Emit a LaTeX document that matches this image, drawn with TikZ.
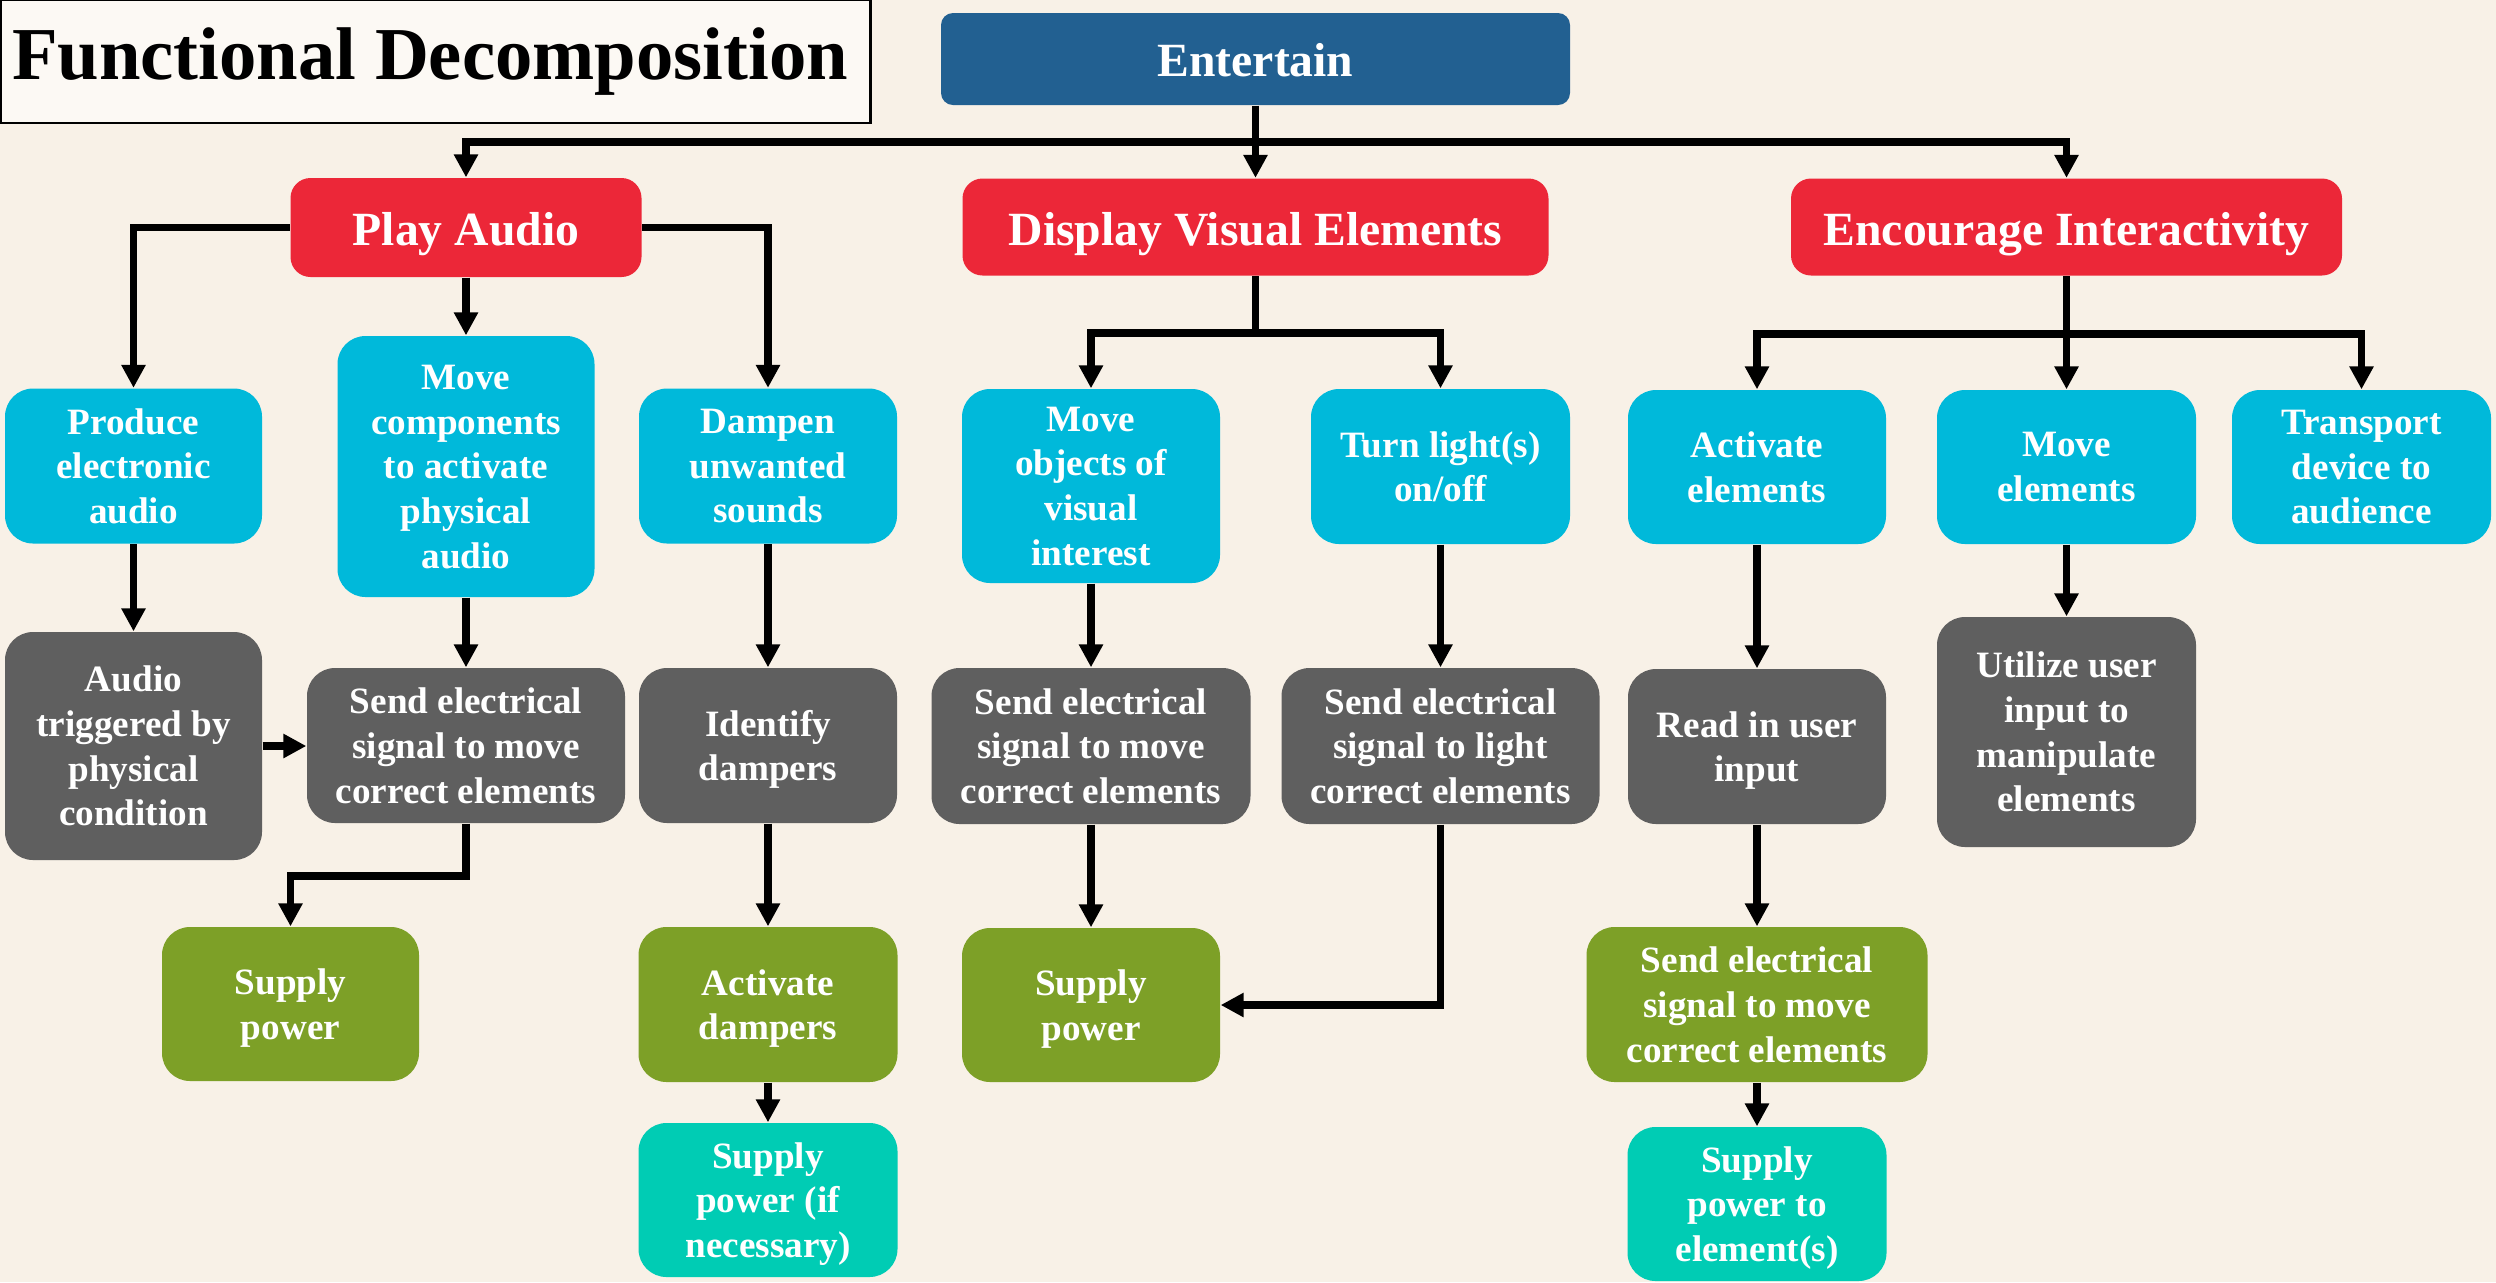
\documentclass[tikz,border=0pt]{standalone}
\usepackage{fontspec}
\setmainfont{Liberation Serif}
\usetikzlibrary{arrows.meta}
\definecolor{bgc}{RGB}{248,241,231}
\definecolor{titlebg}{RGB}{252,249,244}
\definecolor{entc}{RGB}{34,96,145}
\definecolor{redc}{RGB}{236,39,56}
\definecolor{cyanc}{RGB}{0,185,218}
\definecolor{grayc}{RGB}{95,95,95}
\definecolor{greenc}{RGB}{125,160,39}
\definecolor{tealc}{RGB}{0,204,180}
\tikzset{
  x=0.3pt, y=-0.3pt,
  box/.style={rounded corners=8.4pt, inner sep=0pt, align=center, text=white, text depth=0pt,
    font=\bfseries\fontsize{11.15pt}{13.4pt}\selectfont},
  cbox/.style={box, fill=cyanc},
  gbox/.style={box, fill=grayc},
  grbox/.style={box, fill=greenc},
  tbox/.style={box, fill=tealc},
  rbox/.style={box, fill=redc, rounded corners=6pt, text height=10.8pt, text depth=0pt,
    font=\bfseries\fontsize{14.3pt}{17pt}\selectfont},
  ebox/.style={box, fill=entc, rounded corners=3.6pt, text height=10.4pt, text depth=0pt,
    font=\bfseries\fontsize{14.3pt}{17pt}\selectfont},
  wh/.style 2 args={minimum width=#1*0.3pt, minimum height=#2*0.3pt},
  ln/.style={line width=2.3pt, draw=black},
  arr/.style={ln, -{Triangle[width=6.9pt,length=6.9pt]}},
}
\begin{document}
\begin{tikzpicture}
\fill[bgc] (0,0) rectangle (2496,1282);
\useasboundingbox (0,0) rectangle (2496,1282);
% title
\node[draw=black, line width=0.8pt, fill=titlebg, minimum width=870*0.3pt, minimum height=123*0.3pt, inner sep=0pt] (tbx) at (435.5,61.5) {};
\node[font=\bfseries\fontsize{22.4pt}{26pt}\selectfont, text=black, inner sep=0pt] (title) at (430,62) {Functional Decomposition};
% top
\node[ebox, wh={629}{92}] (ent) at (1255.5,59) {Entertain};
\node[rbox, wh={351}{99}] (pa) at (466,227.5) {Play Audio};
\node[rbox, wh={586}{97}] (dv) at (1255.5,227) {Display Visual Elements};
\node[rbox, wh={551}{97}] (ei) at (2066.5,227) {Encourage Interactivity};
% play audio branch
\node[cbox, wh={257}{155}] (pea) at (133.5,466) {Produce\\electronic\\audio};
\node[cbox, wh={257}{261}] (mc) at (466,466.5) {Move\\components\\to activate\\physical\\audio};
\node[cbox, wh={258}{155}] (dus) at (768,466) {Dampen\\unwanted\\sounds};
\node[gbox, wh={257}{228}] (atp) at (133.5,746) {Audio\\triggered by\\physical\\condition};
\node[gbox, wh={318}{155}] (sepa) at (466,745.5) {Send electrical\\signal to move\\correct elements};
\node[gbox, wh={258}{155}] (idd) at (768,745.5) {Identify\\dampers};
\node[grbox, wh={257}{154}] (sppa) at (290.5,1004) {Supply\\power};
\node[grbox, wh={259}{155}] (acd) at (768,1004.5) {Activate\\dampers};
\node[tbox, wh={259}{154}] (spn) at (768,1200) {Supply\\power (if\\necessary)};
% display visual branch
\node[cbox, wh={258}{194}] (mov) at (1091,486) {Move\\objects of\\visual\\interest};
\node[cbox, wh={259}{155}] (tl) at (1440.5,466.5) {Turn light(s)\\on/off};
\node[gbox, wh={319}{156}] (sedv) at (1091,746) {Send electrical\\signal to move\\correct elements};
\node[gbox, wh={318}{156}] (sel) at (1440.5,746) {Send electrical\\signal to light\\correct elements};
\node[grbox, wh={258}{154}] (spdv) at (1091,1005) {Supply\\power};
% encourage interactivity branch
\node[cbox, wh={258}{154}] (ae) at (1757,467) {Activate\\elements};
\node[cbox, wh={259}{154}] (me) at (2066.5,467) {Move\\elements};
\node[cbox, wh={259}{154}] (td) at (2361.5,467) {Transport\\device to\\audience};
\node[gbox, wh={258}{155}] (ru) at (1757,746.5) {Read in user\\input};
\node[gbox, wh={259}{230}] (uu) at (2066.5,732) {Utilize user\\input to\\manipulate\\elements};
\node[grbox, wh={341}{155}] (seei) at (1757,1004.5) {Send electrical\\signal to move\\correct elements};
\node[tbox, wh={259}{154}] (spe) at (1757,1204) {Supply\\power to\\element(s)};
% connectors top
\coordinate (j0) at (1255.5,142);
\draw[ln] (ent.south) -- (j0);
\draw[arr] (j0) -| (pa.north);
\draw[arr] (j0) -| (ei.north);
\draw[arr] (j0) -- (dv.north);
% play audio
\draw[arr] (pa.west) -| (pea.north);
\draw[arr] (pa.east) -| (dus.north);
\draw[arr] (pa.south) -- (mc.north);
\draw[arr] (pea.south) -- (atp.north);
\draw[arr] (mc.south) -- (sepa.north);
\draw[arr] (dus.south) -- (idd.north);
\draw[arr] (atp.east) -- (atp.east -| sepa.west);
\draw[arr] (sepa.south) -- ++(0,52) -| (sppa.north);
\draw[arr] (idd.south) -- (acd.north);
\draw[arr] (acd.south) -- (spn.north);
% display visual
\coordinate (j2) at (1255.5,333);
\draw[ln] (dv.south) -- (j2);
\draw[arr] (j2) -| (mov.north);
\draw[arr] (j2) -| (tl.north);
\draw[arr] (mov.south) -- (sedv.north);
\draw[arr] (tl.south) -- (sel.north);
\draw[arr] (sedv.south) -- (spdv.north);
\draw[arr] (sel.south) |- (spdv.east);
% encourage
\coordinate (j3) at (2066.5,334);
\draw[ln] (ei.south) -- (j3);
\draw[arr] (j3) -| (ae.north);
\draw[arr] (j3) -| (td.north);
\draw[arr] (j3) -- (me.north);
\draw[arr] (ae.south) -- (ru.north);
\draw[arr] (me.south) -- (uu.north);
\draw[arr] (ru.south) -- (seei.north);
\draw[arr] (seei.south) -- (spe.north);
\end{tikzpicture}
\end{document}
